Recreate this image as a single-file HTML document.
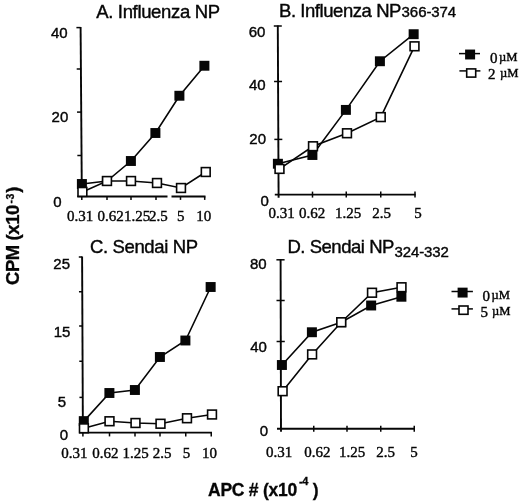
<!DOCTYPE html>
<html><head><meta charset="utf-8"><title>Figure</title>
<style>
html,body{margin:0;padding:0;background:#fff;}
svg{display:block;}
text{fill:#060606;stroke:#060606;stroke-width:0.3px;}
.ti{font-family:"Liberation Sans",Arial,sans-serif;font-size:18.5px;stroke-width:0.4px;}
.ti.sm{font-size:15px;}
.yl{font-family:"Liberation Sans",Arial,sans-serif;font-size:15px;stroke-width:0.4px;}
.xl{font-family:"Liberation Serif","Times New Roman",serif;font-size:15px;stroke-width:0.4px;}
.mu{font-size:12.6px;}
.axb{font-family:"Liberation Sans",Arial,sans-serif;font-size:17.5px;font-weight:bold;}
.sup{font-size:11px;}
</style></head>
<body>
<svg width="520" height="504" viewBox="0 0 520 504">
<rect width="520" height="504" fill="#fff"/>
<line x1="80.59630177514792" y1="27" x2="81.85" y2="196.5" stroke="#060606" stroke-width="1.9"/>
<line x1="76.4007396449704" y1="27.6" x2="80.6007396449704" y2="27.6" stroke="#060606" stroke-width="1.5"/>
<line x1="76.70695266272189" y1="69" x2="80.90695266272189" y2="69" stroke="#060606" stroke-width="1.5"/>
<line x1="77.0257396449704" y1="112.1" x2="81.2257396449704" y2="112.1" stroke="#060606" stroke-width="1.5"/>
<line x1="77.34674556213017" y1="155.5" x2="81.54674556213017" y2="155.5" stroke="#060606" stroke-width="1.5"/>
<line x1="77.3" y1="196.5" x2="167.5" y2="196.5" stroke="#060606" stroke-width="1.9"/>
<line x1="171.5" y1="196.5" x2="205.5" y2="196.5" stroke="#060606" stroke-width="1.9"/>
<line x1="81.8" y1="196.5" x2="81.8" y2="199.9" stroke="#060606" stroke-width="1.5"/>
<line x1="107" y1="196.5" x2="107" y2="199.9" stroke="#060606" stroke-width="1.5"/>
<line x1="131" y1="196.5" x2="131" y2="199.9" stroke="#060606" stroke-width="1.5"/>
<line x1="156" y1="196.5" x2="156" y2="199.9" stroke="#060606" stroke-width="1.5"/>
<line x1="180.5" y1="196.5" x2="180.5" y2="199.9" stroke="#060606" stroke-width="1.5"/>
<line x1="204.7" y1="196.5" x2="204.7" y2="199.9" stroke="#060606" stroke-width="1.5"/>
<polyline points="82,184 107,181 131,161 155.5,133 179.5,95.75 204.5,65.75" fill="none" stroke="#060606" stroke-width="1.6"/>
<polyline points="82.4,191.9 107,181 131,181 157,183 181,188 205.75,172" fill="none" stroke="#060606" stroke-width="1.6"/>
<rect x="76.90" y="179.05" width="10" height="9.9" fill="#060606"/>
<rect x="101.90" y="176.05" width="10" height="9.9" fill="#060606"/>
<rect x="125.90" y="156.05" width="10" height="9.9" fill="#060606"/>
<rect x="150.40" y="128.05" width="10" height="9.9" fill="#060606"/>
<rect x="174.40" y="90.80" width="10" height="9.9" fill="#060606"/>
<rect x="199.40" y="60.80" width="10" height="9.9" fill="#060606"/>
<rect x="78.00" y="187.50" width="8.8" height="8.8" fill="#fff" stroke="#060606" stroke-width="1.6"/>
<rect x="102.60" y="176.60" width="8.8" height="8.8" fill="#fff" stroke="#060606" stroke-width="1.6"/>
<rect x="126.60" y="176.60" width="8.8" height="8.8" fill="#fff" stroke="#060606" stroke-width="1.6"/>
<rect x="152.60" y="178.60" width="8.8" height="8.8" fill="#fff" stroke="#060606" stroke-width="1.6"/>
<rect x="176.60" y="183.60" width="8.8" height="8.8" fill="#fff" stroke="#060606" stroke-width="1.6"/>
<rect x="201.35" y="167.60" width="8.8" height="8.8" fill="#fff" stroke="#060606" stroke-width="1.6"/>
<line x1="277.797204426325" y1="25.4" x2="278.6" y2="197.7" stroke="#060606" stroke-width="1.9"/>
<line x1="273.8" y1="26" x2="281.8" y2="26" stroke="#060606" stroke-width="1.5"/>
<line x1="274.05859056493887" y1="81.5" x2="282.05859056493887" y2="81.5" stroke="#060606" stroke-width="1.5"/>
<line x1="274.3283634245778" y1="139.4" x2="282.3283634245778" y2="139.4" stroke="#060606" stroke-width="1.5"/>
<line x1="274.8" y1="194.6" x2="415.6" y2="194.6" stroke="#060606" stroke-width="1.9"/>
<line x1="312.5" y1="191.6" x2="312.5" y2="197.6" stroke="#060606" stroke-width="1.5"/>
<line x1="346.25" y1="191.6" x2="346.25" y2="197.6" stroke="#060606" stroke-width="1.5"/>
<line x1="380.75" y1="191.6" x2="380.75" y2="197.6" stroke="#060606" stroke-width="1.5"/>
<line x1="415" y1="191.6" x2="415" y2="197.6" stroke="#060606" stroke-width="1.5"/>
<polyline points="278,163.75 312.5,155 346,109.9 380,61.25 413.75,34.2" fill="none" stroke="#060606" stroke-width="1.6"/>
<polyline points="279.5,168.9 313,146.25 347,133.25 380.75,117.1 414.5,46.3" fill="none" stroke="#060606" stroke-width="1.6"/>
<rect x="272.90" y="158.80" width="10" height="9.9" fill="#060606"/>
<rect x="307.40" y="150.05" width="10" height="9.9" fill="#060606"/>
<rect x="340.90" y="104.95" width="10" height="9.9" fill="#060606"/>
<rect x="374.90" y="56.30" width="10" height="9.9" fill="#060606"/>
<rect x="408.65" y="29.25" width="10" height="9.9" fill="#060606"/>
<rect x="275.10" y="164.50" width="8.8" height="8.8" fill="#fff" stroke="#060606" stroke-width="1.6"/>
<rect x="308.60" y="141.85" width="8.8" height="8.8" fill="#fff" stroke="#060606" stroke-width="1.6"/>
<rect x="342.60" y="128.85" width="8.8" height="8.8" fill="#fff" stroke="#060606" stroke-width="1.6"/>
<rect x="376.35" y="112.70" width="8.8" height="8.8" fill="#fff" stroke="#060606" stroke-width="1.6"/>
<rect x="410.10" y="41.90" width="8.8" height="8.8" fill="#fff" stroke="#060606" stroke-width="1.6"/>
<line x1="82.09726651480638" y1="256.4" x2="82.9" y2="432.6" stroke="#060606" stroke-width="1.9"/>
<line x1="78.8" y1="257" x2="82.1" y2="257" stroke="#060606" stroke-width="1.5"/>
<line x1="78.95831435079727" y1="291.75" x2="82.25831435079726" y2="291.75" stroke="#060606" stroke-width="1.5"/>
<line x1="79.11435079726651" y1="326" x2="82.41435079726651" y2="326" stroke="#060606" stroke-width="1.5"/>
<line x1="79.2749430523918" y1="361.25" x2="82.5749430523918" y2="361.25" stroke="#060606" stroke-width="1.5"/>
<line x1="79.43963553530752" y1="397.4" x2="82.73963553530751" y2="397.4" stroke="#060606" stroke-width="1.5"/>
<line x1="79" y1="432.6" x2="212" y2="432.6" stroke="#060606" stroke-width="1.9"/>
<line x1="82.9" y1="432.6" x2="82.9" y2="436.40000000000003" stroke="#060606" stroke-width="1.5"/>
<line x1="109.5" y1="432.6" x2="109.5" y2="436.40000000000003" stroke="#060606" stroke-width="1.5"/>
<line x1="135" y1="432.6" x2="135" y2="436.40000000000003" stroke="#060606" stroke-width="1.5"/>
<line x1="160" y1="432.6" x2="160" y2="436.40000000000003" stroke="#060606" stroke-width="1.5"/>
<line x1="185.75" y1="432.6" x2="185.75" y2="436.40000000000003" stroke="#060606" stroke-width="1.5"/>
<line x1="211.25" y1="432.6" x2="211.25" y2="436.40000000000003" stroke="#060606" stroke-width="1.5"/>
<polyline points="83.9,421.1 109.5,393 135,390 160,357 185.5,340.5 210.75,287" fill="none" stroke="#060606" stroke-width="1.6"/>
<polyline points="83.9,428.3 109.5,421.25 135.5,423 160.5,423.75 187,418.25 212,414.5" fill="none" stroke="#060606" stroke-width="1.6"/>
<rect x="78.80" y="416.15" width="10" height="9.9" fill="#060606"/>
<rect x="104.40" y="388.05" width="10" height="9.9" fill="#060606"/>
<rect x="129.90" y="385.05" width="10" height="9.9" fill="#060606"/>
<rect x="154.90" y="352.05" width="10" height="9.9" fill="#060606"/>
<rect x="180.40" y="335.55" width="10" height="9.9" fill="#060606"/>
<rect x="205.65" y="282.05" width="10" height="9.9" fill="#060606"/>
<rect x="79.50" y="423.90" width="8.8" height="8.8" fill="#fff" stroke="#060606" stroke-width="1.6"/>
<rect x="105.10" y="416.85" width="8.8" height="8.8" fill="#fff" stroke="#060606" stroke-width="1.6"/>
<rect x="131.10" y="418.60" width="8.8" height="8.8" fill="#fff" stroke="#060606" stroke-width="1.6"/>
<rect x="156.10" y="419.35" width="8.8" height="8.8" fill="#fff" stroke="#060606" stroke-width="1.6"/>
<rect x="182.60" y="413.85" width="8.8" height="8.8" fill="#fff" stroke="#060606" stroke-width="1.6"/>
<rect x="207.60" y="410.10" width="8.8" height="8.8" fill="#fff" stroke="#060606" stroke-width="1.6"/>
<line x1="280.5986038394416" y1="259.2" x2="281.0" y2="431.7" stroke="#060606" stroke-width="1.9"/>
<line x1="276.40000000000003" y1="259.8" x2="284.6" y2="259.8" stroke="#060606" stroke-width="1.5"/>
<line x1="276.4947062245492" y1="300.5" x2="284.6947062245492" y2="300.5" stroke="#060606" stroke-width="1.5"/>
<line x1="276.59011052937757" y1="341.5" x2="284.79011052937756" y2="341.5" stroke="#060606" stroke-width="1.5"/>
<line x1="277" y1="428.8" x2="414.9" y2="428.8" stroke="#060606" stroke-width="1.9"/>
<line x1="313.75" y1="425.8" x2="313.75" y2="431.8" stroke="#060606" stroke-width="1.5"/>
<line x1="347" y1="425.8" x2="347" y2="431.8" stroke="#060606" stroke-width="1.5"/>
<line x1="380.75" y1="425.8" x2="380.75" y2="431.8" stroke="#060606" stroke-width="1.5"/>
<line x1="414.25" y1="425.8" x2="414.25" y2="431.8" stroke="#060606" stroke-width="1.5"/>
<polyline points="282,365 312,332.25 341.25,322.25 371.25,305.5 401.5,296.75" fill="none" stroke="#060606" stroke-width="1.6"/>
<polyline points="282.6,391.2 312.1,354.4 341.25,322.25 372,292.75 401.5,287.25" fill="none" stroke="#060606" stroke-width="1.6"/>
<rect x="276.90" y="360.05" width="10" height="9.9" fill="#060606"/>
<rect x="306.90" y="327.30" width="10" height="9.9" fill="#060606"/>
<rect x="336.15" y="317.30" width="10" height="9.9" fill="#060606"/>
<rect x="366.15" y="300.55" width="10" height="9.9" fill="#060606"/>
<rect x="396.40" y="291.80" width="10" height="9.9" fill="#060606"/>
<rect x="278.20" y="386.80" width="8.8" height="8.8" fill="#fff" stroke="#060606" stroke-width="1.6"/>
<rect x="307.70" y="350.00" width="8.8" height="8.8" fill="#fff" stroke="#060606" stroke-width="1.6"/>
<rect x="336.85" y="317.85" width="8.8" height="8.8" fill="#fff" stroke="#060606" stroke-width="1.6"/>
<rect x="367.60" y="288.35" width="8.8" height="8.8" fill="#fff" stroke="#060606" stroke-width="1.6"/>
<rect x="397.10" y="282.85" width="8.8" height="8.8" fill="#fff" stroke="#060606" stroke-width="1.6"/>
<line x1="459" y1="53.6" x2="480" y2="53.6" stroke="#060606" stroke-width="1.5"/>
<rect x="465.10" y="49.55" width="10" height="9.9" fill="#060606"/>
<line x1="459.4" y1="70.9" x2="480.4" y2="70.9" stroke="#060606" stroke-width="1.5"/>
<rect x="466.70" y="68.90" width="9.00" height="8.20" fill="#fff" stroke="#060606" stroke-width="1.6"/>
<line x1="451.5" y1="291.5" x2="472.9" y2="291.5" stroke="#060606" stroke-width="1.5"/>
<rect x="457.60" y="287.65" width="10" height="9.9" fill="#060606"/>
<line x1="451.5" y1="308.9" x2="472.9" y2="308.9" stroke="#060606" stroke-width="1.5"/>
<rect x="459.00" y="306.00" width="9.00" height="8.30" fill="#fff" stroke="#060606" stroke-width="1.6"/>
<text x="96.25" y="18" class="ti" textLength="123.8" lengthAdjust="spacing">A. Influenza NP</text>
<text x="279" y="17" class="ti" textLength="122.4" lengthAdjust="spacing">B. Influenza NP</text>
<text x="401.6" y="17" class="ti sm" textLength="54.6" lengthAdjust="spacing">366-374</text>
<text x="90" y="252.9" class="ti" textLength="108" lengthAdjust="spacing">C. Sendai NP</text>
<text x="287.4" y="252.5" class="ti" textLength="107" lengthAdjust="spacing">D. Sendai NP</text>
<text x="394.6" y="257" class="ti sm" textLength="54.2" lengthAdjust="spacing">324-332</text>
<text x="67.7" y="38.3" class="yl" text-anchor="end" >40</text>
<text x="68.3" y="121.9" class="yl" text-anchor="end" >20</text>
<text x="61.6" y="207.3" class="yl" text-anchor="end" >0</text>
<text x="265.4" y="36.9" class="yl" text-anchor="end" >60</text>
<text x="265.7" y="89.6" class="yl" text-anchor="end" >40</text>
<text x="266.0" y="144.4" class="yl" text-anchor="end" >20</text>
<text x="268.9" y="206.1" class="yl" text-anchor="end" >0</text>
<text x="70.0" y="268.8" class="yl" text-anchor="end" >25</text>
<text x="70.4" y="336.7" class="yl" text-anchor="end" >15</text>
<text x="66.2" y="407.1" class="yl" text-anchor="end" >5</text>
<text x="68.0" y="439.8" class="yl" text-anchor="end" >0</text>
<text x="266.6" y="268.8" class="yl" text-anchor="end" >80</text>
<text x="266.9" y="351.5" class="yl" text-anchor="end" >40</text>
<text x="268.1" y="436.1" class="yl" text-anchor="end" >0</text>
<text x="80" y="220.5" class="xl" text-anchor="middle" >0.31</text>
<text x="110.6" y="220.5" class="xl" text-anchor="middle" >0.62</text>
<text x="137" y="220.5" class="xl" text-anchor="middle" >1.25</text>
<text x="158.3" y="220.5" class="xl" text-anchor="middle" >2.5</text>
<text x="180.75" y="220.5" class="xl" text-anchor="middle" >5</text>
<text x="203.75" y="220.5" class="xl" text-anchor="middle" >10</text>
<text x="281.5" y="217.5" class="xl" text-anchor="middle" >0.31</text>
<text x="312" y="217.5" class="xl" text-anchor="middle" >0.62</text>
<text x="348" y="217.5" class="xl" text-anchor="middle" >1.25</text>
<text x="381.5" y="217.5" class="xl" text-anchor="middle" >2.5</text>
<text x="418" y="217.5" class="xl" text-anchor="middle" >5</text>
<text x="74.25" y="457.5" class="xl" text-anchor="middle" >0.31</text>
<text x="105.25" y="457.5" class="xl" text-anchor="middle" >0.62</text>
<text x="135.5" y="457.5" class="xl" text-anchor="middle" >1.25</text>
<text x="162" y="457.5" class="xl" text-anchor="middle" >2.5</text>
<text x="186.5" y="457.5" class="xl" text-anchor="middle" >5</text>
<text x="209.5" y="457.5" class="xl" text-anchor="middle" >10</text>
<text x="279" y="457" class="xl" text-anchor="middle" >0.31</text>
<text x="317.25" y="457" class="xl" text-anchor="middle" >0.62</text>
<text x="352" y="457" class="xl" text-anchor="middle" >1.25</text>
<text x="385.5" y="457" class="xl" text-anchor="middle" >2.5</text>
<text x="414" y="457" class="xl" text-anchor="middle" >5</text>
<text x="490" y="62.8" class="xl" >0<tspan class="mu" dx="1.6" dy="-1.8">µM</tspan></text>
<text x="488" y="78.75" class="xl" >2<tspan class="mu" dx="4.6" dy="-1.8">µM</tspan></text>
<text x="482.5" y="300.9" class="xl" >0<tspan class="mu" dx="1.6" dy="-1.8">µM</tspan></text>
<text x="480.5" y="317" class="xl" >5<tspan class="mu" dx="3.9" dy="-1.8">µM</tspan></text>
<text x="208" y="496.2" class="axb" letter-spacing="-0.25">APC # (x10<tspan class="sup" dy="-11.5" dx="2">-4</tspan><tspan dy="11.5" dx="4.5">)</tspan></text>
<text class="axb" style="font-size:18.5px" letter-spacing="-0.42" transform="translate(18.5,285) rotate(-90)">CPM (x10<tspan class="sup" style="font-size:10.5px" letter-spacing="0.5" dy="-4.3" dx="1.6">-3</tspan><tspan dy="4.3" dx="0.3">)</tspan></text>
</svg>
</body></html>
